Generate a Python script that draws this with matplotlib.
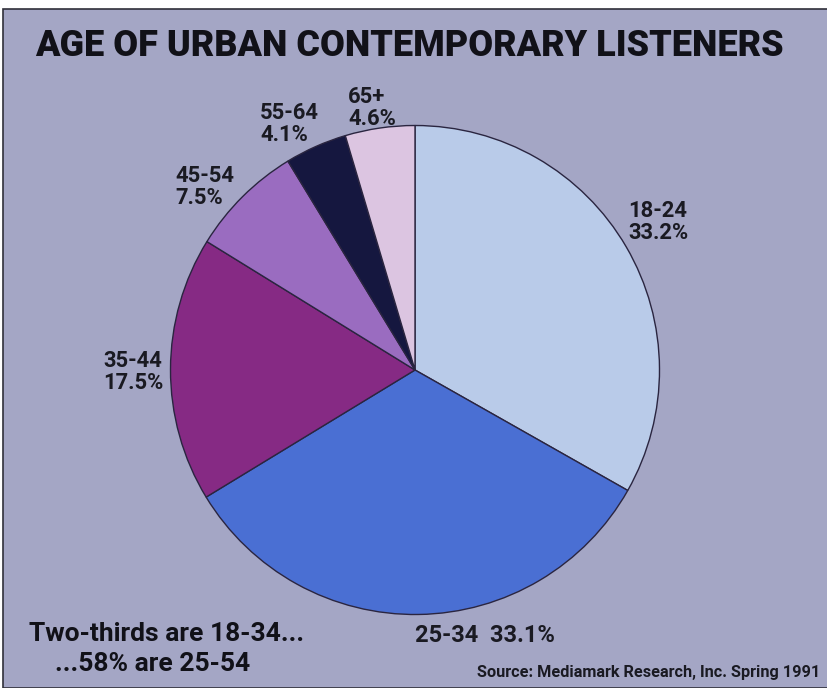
import matplotlib.pyplot as plt
from matplotlib.patches import Rectangle

# data
age_groups = ["18-24", "25-34", "35-44", "45-54", "55-64", "65+"]
shares = [33.2, 33.1, 17.5, 7.5, 4.1, 4.6]
colors = ["#b9cbe9", "#4a6fd3", "#862a84", "#9a6cc0", "#15173f", "#dcc5e1"]

W, H = 828, 688
CX, CY, R = 415, 370, 244.5
FONT = ["Roboto", "DejaVu Sans"]
BG = "#a4a6c5"


def px(x, y):
    # pixel position (from top-left) -> data coords
    return (x - CX) / R, (CY - y) / R


def fit_width(txt, target):
    # shrink/grow the font so the text is as wide as in the reference
    r = fig.canvas.get_renderer()
    w = txt.get_window_extent(renderer=r).width
    txt.set_fontsize(txt.get_fontsize() * target / w)


fig = plt.figure(figsize=(W / 100, H / 100), dpi=100)
fig.patch.set_facecolor("white")
fig.patches.append(Rectangle((3 / W, 0), 1 - 3 / W, 1 - 9 / H, transform=fig.transFigure,
                             facecolor=BG, edgecolor="#30303a", linewidth=1.2, zorder=-5))

ax = fig.add_axes([0, 0, 1, 1])
ax.pie(shares, colors=colors, startangle=90, counterclock=False, radius=1,
       wedgeprops=dict(edgecolor="#2a2540", linewidth=1))
# pie() resets the limits, so set them afterwards
ax.set_aspect("auto")
ax.set_xlim(-CX / R, (W - CX) / R)
ax.set_ylim(-(H - CY) / R, CY / R)
ax.patch.set_alpha(0)
ax.axis("off")

title = ax.text(*px(409, 46), "AGE OF URBAN CONTEMPORARY LISTENERS", ha="center", va="center",
                fontsize=30, fontweight="black", family=FONT, color="#111118")
fit_width(title, 748)

label_pos = {
    "18-24": (628, 222),
    "65+": (348, 108),
    "55-64": (260, 124),
    "45-54": (175, 187),
    "35-44": (103, 372),
}
probe = ax.text(0, 0, "33.2%", fontsize=15, fontweight="bold", family=FONT)
fit_width(probe, 61)
lab_size = probe.get_fontsize()
probe.remove()

for grp, share in zip(age_groups, shares):
    if grp in label_pos:
        ax.text(*px(*label_pos[grp]), f"{grp}\n{share}%", ha="left", va="center",
                fontsize=lab_size, fontweight="bold", family=FONT, color="#1a1a22",
                linespacing=1.05)

t = ax.text(*px(415, 635), f"{age_groups[1]}  {shares[1]}%", ha="left", va="center",
            fontsize=17, fontweight="bold", family=FONT, color="#1a1a22")
fit_width(t, 140)

line1 = ax.text(*px(167, 634), "Two-thirds are 18-34...", ha="center", va="center",
                fontsize=22, fontweight="bold", family=FONT, color="#111118")
fit_width(line1, 275)
ax.text(*px(153, 664), "...58% are 25-54", ha="center", va="center",
        fontsize=line1.get_fontsize(), fontweight="bold", family=FONT, color="#111118")

src = ax.text(*px(820, 673), "Source: Mediamark Research, Inc. Spring 1991", ha="right", va="center",
              fontsize=11, fontweight="bold", family=FONT, color="#1a1a22")
fit_width(src, 342)

fig.savefig("out.png", dpi=100)
